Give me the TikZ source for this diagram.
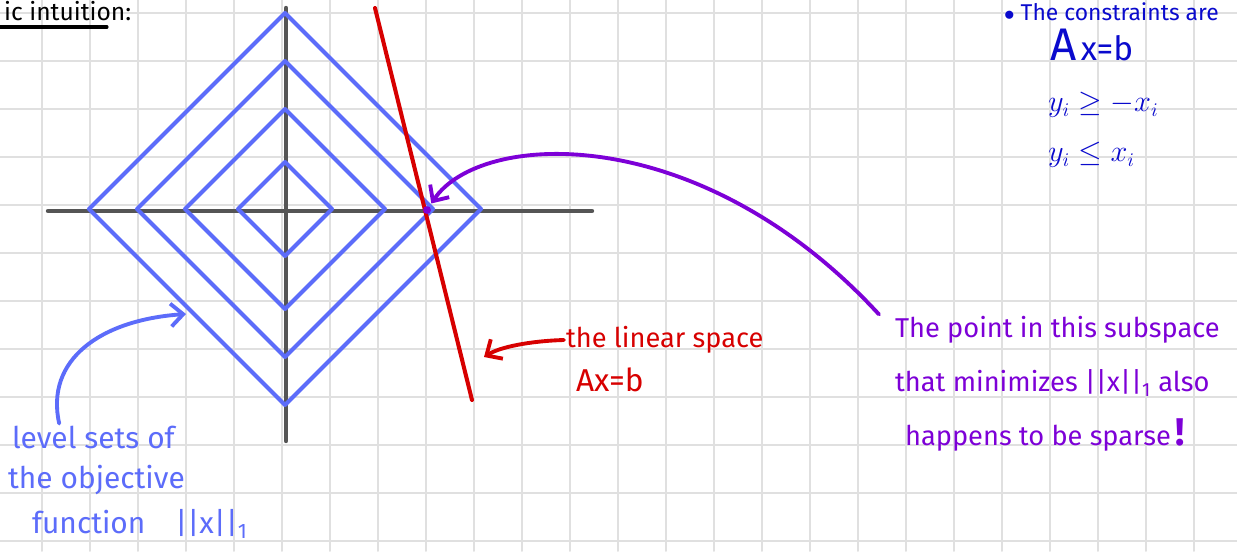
\documentclass[tikz,border=0pt]{standalone}
\usepackage{amsmath}
\usepackage{fontspec}
\setmainfont{Fira Sans}
\usepackage{tikz}
\usetikzlibrary{positioning, arrows.meta}
\definecolor{gridgray}{RGB}{224,224,224}
\definecolor{axisgray}{RGB}{85,85,85}
\definecolor{lvlblue}{RGB}{92,108,250}
\definecolor{subred}{RGB}{215,0,0}
\definecolor{optpurple}{RGB}{125,0,215}
\definecolor{consblue}{RGB}{10,10,205}

\begin{document}
\begin{tikzpicture}[x=0.02cm, y=-0.02cm, line cap=round, line join=round,
   >={Straight Barb[length=7pt,width=13pt]},
   gridline/.style={draw=gridgray, line width=1.1pt},
   lvlset/.style={draw=lvlblue, line width=2.3pt},
   axisline/.style={draw=axisgray, line width=2.5pt},
   hand/.style={inner sep=1pt, anchor=west, font=\fontsize{15.5}{18}\selectfont},
   lvltext/.style={hand, text=lvlblue, font=\fontsize{17}{20}\selectfont},
   subtext/.style={hand, text=subred},
   opttext/.style={hand, text=optpurple},
   constext/.style={hand, text=consblue, font=\fontsize{16}{19}\selectfont},
   dot/.style={circle, fill=optpurple, inner sep=0pt, minimum size=4.5pt}]
   \useasboundingbox (0,0) rectangle (1237,551);
   \fill[white] (0,0) rectangle (1237,551);

   % squared paper
   \foreach \gx in {-6,42,...,1242} \draw[gridline] (\gx,0) -- (\gx,551);
   \foreach \gy in {13,61,...,541} \draw[gridline] (0,\gy) -- (1237,\gy);

   % heading and constraints
   \node[hand, text=black, font=\fontsize{14}{16}\selectfont] (intro) at (2,11) {ic intuition:};
   \draw[line width=1.8pt] (0,27) -- (107,27);
   \node[constext, font=\fontsize{13}{15}\selectfont] (cons0) at (1002,12) {$\bullet$ The constraints are};
   \node[constext] (cons1) at (1048,45) {{\fontsize{26}{26}\selectfont A}\,{\fontsize{19}{20}\selectfont x{=}b}};
   \node[constext] (cons2) at (1046,105) {$y_i \geq -x_i$};
   \node[constext] (cons3) at (1046,155) {$y_i \leq x_i$};

   % axes
   \draw[axisline] (48,211) -- (592,211);
   \draw[axisline] (286,8) -- (286,441);

   % level sets of the l1 norm
   \foreach \r in {196,148,100,47}
      \draw[lvlset] (285,209-\r) -- (285+\r,209) -- (285,209+\r) -- (285-\r,209) -- cycle;

   % the subspace Ax=b
   \draw[draw=subred, line width=2.3pt] (375,8) -- (472,400);
   \node[dot] (opt) at (427,210) {};

   % labels
   \node[lvltext] (lvl1) at (10,437) {level sets of};
   \node[lvltext] (lvl2) at (6,480) {the objective};
   \node[lvltext] (lvl3) at (30,524) {function\quad ||x||\textsubscript{1}};
   \coordinate (lvltip) at (186,314);

   \node[subtext] (lin1) at (564,340) {the linear space};
   \node[subtext, font=\fontsize{18}{20}\selectfont] (lin2) at (574,380) {Ax=b};
   \coordinate (lintip) at (484,357);

   \node[opttext] (pt1) at (893,330) {The point in this subspace};
   \node[opttext] (pt2) at (893,383) {that minimizes ||x||\textsubscript{1} also};
   \node[opttext] (pt3) at (903,435) {happens to be sparse\,{\fontsize{22}{22}\selectfont\bfseries !}};

   % arrows
   \draw[->, draw=lvlblue, line width=2.2pt]
      ([xshift=28pt]lvl1.north west) .. controls (45,360) and (100,320) .. (lvltip);
   \draw[->, draw=subred, line width=2.2pt]
      (lin1.west) .. controls (530,341) and (500,347) .. (lintip);
   \draw[->, draw=optpurple, line width=2.2pt, shorten >=2pt]
      ([xshift=-8pt]pt1.north west) .. controls (700,120) and (480,130) .. (opt);
\end{tikzpicture}
\end{document}
